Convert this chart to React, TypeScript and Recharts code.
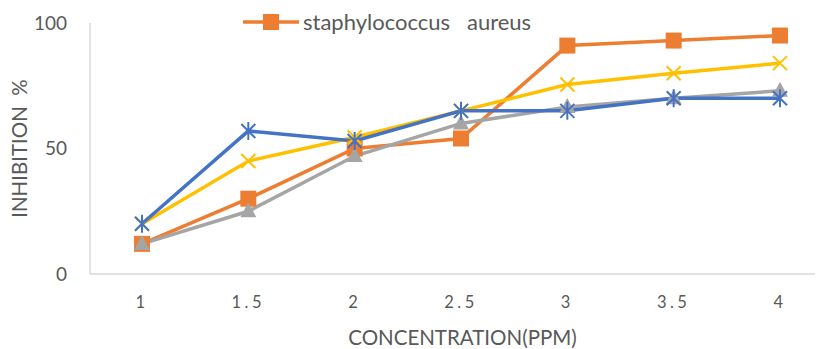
import React from 'react';
import { LineChart, Line, XAxis, YAxis, Label } from 'recharts';

const categories = ['1', '1.5', '2', '2.5', '3', '3.5', '4'];
const staphAureus = [12, 30, 50, 54, 91, 93, 95];
const seriesGray = [12, 25, 47, 60, 66.5, 70, 73];
const seriesYellow = [20, 45, 54.5, 65, 75.5, 80, 84];
const seriesBlue = [20, 57, 53, 65, 65, 70, 70];
const yTicks = [0, 50, 100];
const legendName = 'staphylococcus   aureus';

const data = categories.map((c, i) => ({
  c,
  staph: staphAureus[i],
  gray: seriesGray[i],
  yellow: seriesYellow[i],
  blue: seriesBlue[i],
}));

const FONT = 'Lato, "Open Sans", sans-serif';
const ORANGE = '#ED7D31';
const GRAY = '#A5A5A5';
const YELLOW = '#FFC000';
const BLUE = '#4472C4';

const SquareDot = (p: any) => (
  <rect key={p.index} x={p.cx - 8} y={p.cy - 8} width={16} height={16} fill={ORANGE} />
);
const TriDot = (p: any) => (
  <path key={p.index} d={`M${p.cx},${p.cy - 9} L${p.cx + 8},${p.cy + 6} L${p.cx - 8},${p.cy + 6} Z`} fill={GRAY} />
);
const XDot = (p: any) => (
  <path key={p.index} d={`M${p.cx - 7},${p.cy - 7} L${p.cx + 7},${p.cy + 7} M${p.cx + 7},${p.cy - 7} L${p.cx - 7},${p.cy + 7}`} stroke={YELLOW} strokeWidth={2} fill="none" />
);
const StarDot = (p: any) => (
  <path key={p.index} d={`M${p.cx - 7},${p.cy - 7} L${p.cx + 7},${p.cy + 7} M${p.cx + 7},${p.cy - 7} L${p.cx - 7},${p.cy + 7} M${p.cx},${p.cy - 9} L${p.cx},${p.cy + 9}`} stroke={BLUE} strokeWidth={2} fill="none" />
);

export default function App() {
  return (
    <div style={{ width: 815, height: 341, overflow: 'hidden', position: 'relative' }}>
      <LineChart width={830} height={341} data={data} margin={{ top: 15, right: 3, bottom: 0, left: 0 }}>
        <XAxis
          dataKey="c"
          height={75}
          padding={{ left: 52, right: 55 }}
          tickLine={false}
          tickSize={0}
          tickMargin={22}
          stroke="#D9D9D9"
          strokeWidth={1.5}
          tick={{ fill: '#595959', fontSize: 16.5, fontFamily: FONT, letterSpacing: 3.5 }}
        >
          <Label value="CONCENTRATION(PPM)" position="insideBottom" offset={4} style={{ fill: '#595959', fontSize: 20.5, fontFamily: FONT }} />
        </XAxis>
        <YAxis
          width={82}
          domain={[0, 100]}
          ticks={yTicks}
          tickLine={false}
          tickSize={0}
          tickMargin={23}
          stroke="#D9D9D9"
          strokeWidth={1.5}
          tick={{ fill: '#595959', fontSize: 19, fontFamily: FONT }}
        >
          <Label value={'INHIBITION\u00A0\u00A0%'} angle={-90} position="center" dx={-29} style={{ fill: '#595959', fontSize: 20.5, fontFamily: FONT }} />
        </YAxis>
        <Line dataKey="staph" name={legendName} stroke={ORANGE} strokeWidth={3.5} dot={SquareDot} activeDot={false} isAnimationActive={false} />
        <Line dataKey="gray" legendType="none" stroke={GRAY} strokeWidth={3.5} dot={TriDot} activeDot={false} isAnimationActive={false} />
        <Line dataKey="yellow" legendType="none" stroke={YELLOW} strokeWidth={3.5} dot={XDot} activeDot={false} isAnimationActive={false} />
        <Line dataKey="blue" legendType="none" stroke={BLUE} strokeWidth={3.5} dot={StarDot} activeDot={false} isAnimationActive={false} />
      </LineChart>
      <div style={{ position: 'absolute', top: 0, left: 235, display: 'flex', alignItems: 'center', fontFamily: FONT, fontSize: 22, color: '#595959', whiteSpace: 'pre' }}>
        <svg width={58} height={24} style={{ marginRight: 2 }}>
          <line x1={0} y1={12} x2={56} y2={12} stroke={ORANGE} strokeWidth={3.5} />
          <rect x={20} y={4} width={16} height={16} fill={ORANGE} />
        </svg>
        <span>{legendName}</span>
      </div>
    </div>
  );
}
